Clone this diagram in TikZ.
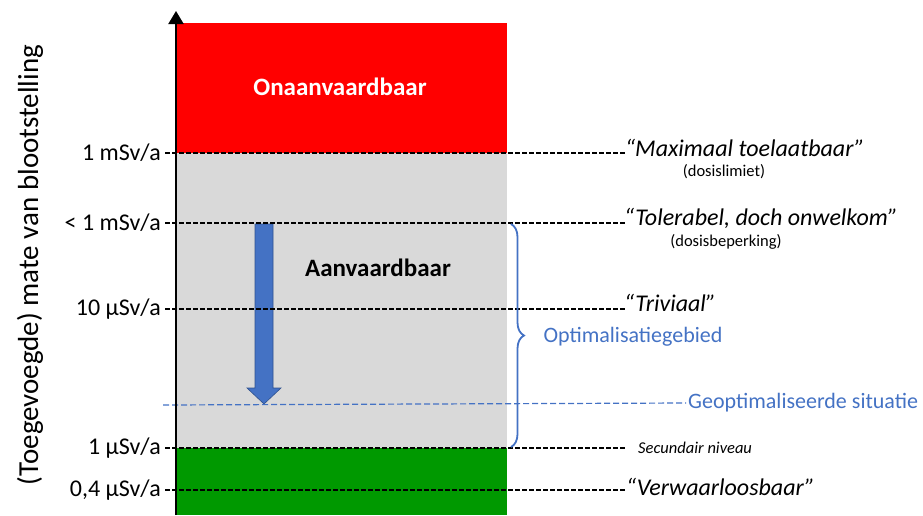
\documentclass[tikz,border=0pt]{standalone}
\usepackage{fontspec}
\setmainfont{Carlito}
\usetikzlibrary{arrows.meta,decorations.pathreplacing}
\definecolor{unacred}{RGB}{255,0,0}
\definecolor{accgray}{RGB}{217,217,217}
\definecolor{negligreen}{RGB}{0,153,0}
\definecolor{optblue}{RGB}{68,114,196}
\definecolor{optedge}{RGB}{47,82,143}
\begin{document}
\begin{tikzpicture}[x=1pt,y=-1pt,font=\fontsize{24}{28}\selectfont,
  level/.style={line width=1.4pt,dash pattern=on 4.5pt off 2.5pt},
  optline/.style={optblue,line width=1.2pt,dash pattern=on 6pt off 3pt},
  quote/.style={anchor=west,inner sep=1pt,font=\fontsize{24}{28}\selectfont\itshape},
  note/.style={inner sep=1pt,font=\fontsize{16.5}{19}\selectfont}]
  \useasboundingbox (0,0) rectangle (923,515);
  % the three bands
  \fill[unacred] (177,23) rectangle (507,153);
  \fill[accgray] (177,153) rectangle (507,448);
  \fill[negligreen] (177,448) rectangle (507,515);
  \node[text=white,font=\fontsize{25}{29}\selectfont\bfseries] (onaan) at (340,87) {Onaanvaardbaar};
  \node[font=\fontsize{25}{29}\selectfont\bfseries] (aanv) at (378,268) {Aanvaardbaar};
  % optimisation arrow
  \coordinate (optstart) at (264,224);
  \coordinate (opttip) at (264,404);
  \filldraw[fill=optblue,draw=optedge,line width=0.6pt]
    ([xshift=-9pt]optstart) -- ([xshift=9pt]optstart) -- ([xshift=9pt,yshift=16pt]opttip)
    -- ([xshift=17pt,yshift=16pt]opttip) -- (opttip) -- ([xshift=-17pt,yshift=16pt]opttip)
    -- ([xshift=-9pt,yshift=16pt]opttip) -- cycle;
  % dose levels
  \foreach \name/\y/\txt in {msv/153/{1 mSv/a}, ltmsv/223/{< 1 mSv/a}, tenusv/309/{10 µSv/a},
                             usv/448/{1 µSv/a}, fourusv/490/{0,4 µSv/a}}{
    \node[anchor=east,inner sep=4pt] (\name-lbl) at (165,\y) {\txt};
    \coordinate (\name-end) at (625,\y);
    \draw[level] (\name-lbl.east) -- (\name-end);
  }
  \node[quote] (maxi) at ([xshift=-1pt,yshift=5pt]msv-end) {“Maximaal toelaatbaar”};
  \node[note] (limiet) at (724,172) {(dosislimiet)};
  \node[quote] (toler) at ([xshift=-2pt,yshift=5pt]ltmsv-end) {“Tolerabel, doch onwelkom”};
  \node[note] (beperk) at (726,242) {(dosisbeperking)};
  \node[quote] (trivi) at ([xshift=-2pt,yshift=6pt]tenusv-end) {“Triviaal”};
  \node[note,anchor=west,font=\fontsize{16.5}{19}\selectfont\itshape] (secund) at (637,448) {Secundair niveau};
  \node[quote] (verw) at ([yshift=3pt]fourusv-end) {“Verwaarloosbaar”};
  % optimised situation
  \coordinate (optleft) at (163,405);
  \node[anchor=west,text=optblue,inner sep=2pt,font=\fontsize{22}{26}\selectfont] (geopt) at (686,403) {Geoptimaliseerde situatie};
  \draw[optline] (optleft) -- (geopt.west);
  % optimisation range
  \coordinate (bracetop) at (511,224);
  \coordinate (bracebot) at (511,447);
  \draw[optblue,line width=1.8pt,decorate,decoration={brace,amplitude=13pt}] (bracetop) -- (bracebot);
  \node[anchor=west,text=optblue,font=\fontsize{22}{26}\selectfont] (optgeb) at (540,337) {Optimalisatiegebied};
  % axis
  \coordinate (axbot) at (176,515);
  \coordinate (axtop) at (176,11);
  \draw[line width=2.2pt,-{Triangle[width=15pt,length=13pt]}] (axbot) -- (axtop);
  \node[rotate=90,font=\fontsize{29}{33}\selectfont] (axlbl) at (30,265) {(Toegevoegde) mate van blootstelling};
\end{tikzpicture}
\end{document}
